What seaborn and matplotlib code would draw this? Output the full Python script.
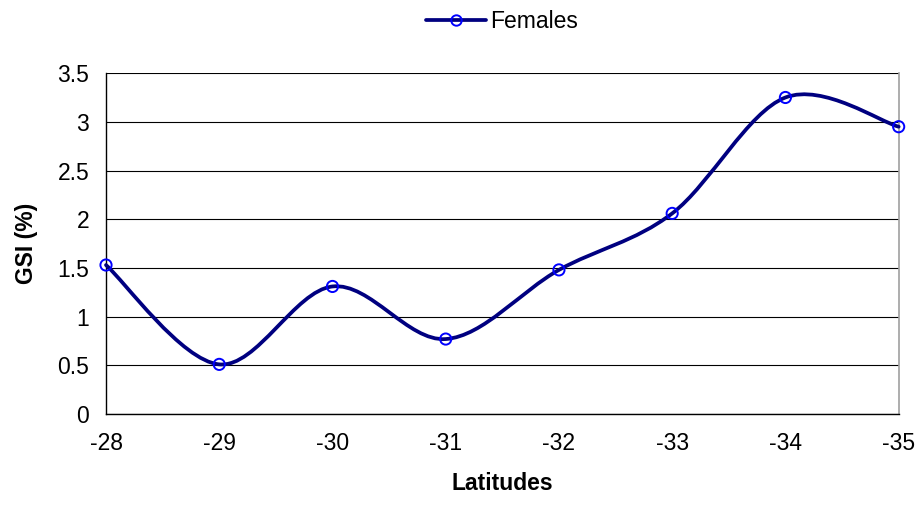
import numpy as np
import matplotlib
matplotlib.use("Agg")
import matplotlib.pyplot as plt
from matplotlib.path import Path
from matplotlib.patches import PathPatch
from matplotlib.lines import Line2D
import seaborn as sns

# data
latitudes = [-28, -29, -30, -31, -32, -33, -34, -35]
gsi_females = [1.53, 0.51, 1.31, 0.77, 1.48, 2.06, 3.25, 2.95]
y_ticks = [0, 0.5, 1, 1.5, 2, 2.5, 3, 3.5]

sns.set_style("white")
plt.rcParams['font.family'] = ['Liberation Sans', 'DejaVu Sans']
plt.rcParams['text.color'] = 'black'

fig = plt.figure(figsize=(9.17, 5.15), dpi=100)
ax = fig.add_axes([0.1156, 0.196, 0.8644, 0.662])

# smoothed line like the spreadsheet's (bezier through the points)
x = np.array(latitudes, dtype=float)
y = np.array(gsi_females, dtype=float)
verts = [(x[0], y[0])]
codes = [Path.MOVETO]
n = len(x)
for i in range(n - 1):
    p0 = (x[i - 1], y[i - 1]) if i > 0 else (x[i], y[i])
    p3 = (x[i + 2], y[i + 2]) if i + 2 < n else (x[i + 1], y[i + 1])
    c1 = (x[i] + (x[i + 1] - p0[0]) / 6, y[i] + (y[i + 1] - p0[1]) / 6)
    c2 = (x[i + 1] - (p3[0] - x[i]) / 6, y[i + 1] - (p3[1] - y[i]) / 6)
    verts += [c1, c2, (x[i + 1], y[i + 1])]
    codes += [Path.CURVE4] * 3
ax.add_patch(PathPatch(Path(verts, codes), facecolor='none', edgecolor='#000080',
                       lw=2.7, zorder=3, capstyle='round', joinstyle='round',
                       clip_on=False))

sns.scatterplot(x=latitudes, y=gsi_females, ax=ax, marker='o', s=65,
                facecolor='none', edgecolor='#0000FF', linewidth=1.4, zorder=4,
                clip_on=False)

ax.set_xlim(-28, -35)
ax.set_ylim(0, 3.5)
ax.set_xticks(latitudes)
ax.set_xticklabels([str(v) for v in latitudes])
ax.set_yticks(y_ticks)
ax.set_yticklabels(['0', '0.5', '1', '1.5', '2', '2.5', '3', '3.5'])
ax.yaxis.grid(True, color='black', lw=0.8)
ax.set_axisbelow(True)

for side in ['left', 'bottom']:
    ax.spines[side].set_color('black')
    ax.spines[side].set_linewidth(1)
ax.spines['top'].set_visible(False)
ax.spines['right'].set_color('#a0a0a0')
ax.spines['right'].set_linewidth(1.2)

ax.tick_params(axis='both', labelsize=16.5, colors='black', length=6, width=0.8,
               direction='inout', pad=10)
ax.tick_params(axis='y', direction='out', length=6, pad=6)

ax.set_xlabel('Latitudes', fontsize=16.5, fontweight='bold', labelpad=12, color='black')
ax.set_ylabel('GSI (%)', fontsize=16.5, fontweight='bold', labelpad=14, color='black')

handle = Line2D([], [], color='#000080', lw=2.7, marker='o', markersize=7.5,
                markerfacecolor='none', markeredgecolor='#0000FF', markeredgewidth=1.4)
ax.legend([handle], ['Females'], loc='center', bbox_to_anchor=(0.5, 1.15),
          frameon=False, fontsize=16.5, handlelength=2.6, handletextpad=0.2,
          borderaxespad=0, labelcolor='black')

fig.savefig('out.png', dpi=100)
